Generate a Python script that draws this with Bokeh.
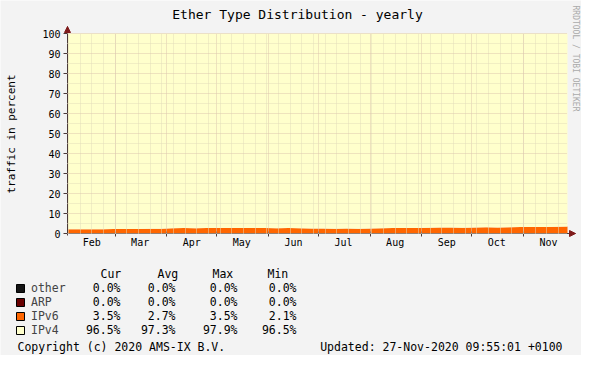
import numpy as np
import pandas as pd
from bokeh.plotting import figure
from bokeh.models import (ColumnDataSource, Range1d, FixedTicker, Label, Legend,
                          LegendItem, Arrow, NormalHead)
from bokeh.embed import file_html
from bokeh.resources import INLINE

# ---------------- data ----------------
start = "2020-02-01 09:55:01"
end = "2020-11-27 09:55:01"
month_labels = ["Feb", "Mar", "Apr", "May", "Jun", "Jul", "Aug", "Sep", "Oct", "Nov"]
month_starts = ["2020-02-01", "2020-03-01", "2020-04-01", "2020-05-01", "2020-06-01",
                "2020-07-01", "2020-08-01", "2020-09-01", "2020-10-01", "2020-11-01"]

ipv6 = [2.1, 2.1, 2.1, 2.1, 2.2,
        2.2, 2.3, 2.4, 2.4,
        2.6, 2.7, 2.6, 2.8,
        2.8, 2.7, 2.8, 2.7, 2.7,
        2.6, 2.7, 2.6, 2.5,
        2.5, 2.4, 2.5, 2.4,
        2.5, 2.6, 2.7, 2.7, 2.8,
        2.9, 3.0, 3.0, 2.9,
        3.0, 3.1, 3.0, 3.1,
        3.2, 3.2, 3.3, 3.4, 3.5]
ipv4 = [97.9, 97.9, 97.9, 97.9, 97.8,
        97.8, 97.7, 97.6, 97.6,
        97.4, 97.3, 97.4, 97.2,
        97.2, 97.3, 97.2, 97.3, 97.3,
        97.4, 97.3, 97.4, 97.5,
        97.5, 97.6, 97.5, 97.6,
        97.5, 97.4, 97.3, 97.3, 97.2,
        97.1, 97.0, 97.0, 97.1,
        97.0, 96.9, 97.0, 96.9,
        96.8, 96.8, 96.7, 96.6, 96.5]
arp = [0.0] * len(ipv6)
other = [0.0] * len(ipv6)

series_names = ["other", "ARP", "IPv6", "IPv4"]
series_colors = ["#141414", "#680000", "#FF6600", "#FFFFCC"]
stat_cur = [0.0, 0.0, 3.5, 96.5]
stat_avg = [0.0, 0.0, 2.7, 97.3]
stat_max = [0.0, 0.0, 3.5, 97.9]
stat_min = [0.0, 0.0, 2.1, 96.5]
stat_headers = ["Cur", "Avg", "Max", "Min"]

y_ticks = [0, 10, 20, 30, 40, 50, 60, 70, 80, 90, 100]
y_minor = [5, 15, 25, 35, 45, 55, 65, 75, 85, 95]

title_text = "Ether Type Distribution - yearly"
ylabel_text = "traffic in percent"
copyright_text = "Copyright (c) 2020 AMS-IX B.V."
updated_text = "Updated: 27-Nov-2020 09:55:01 +0100"
credit_text = "RRDTOOL / TOBI OETIKER"

# ---------------- helpers ----------------
t0 = pd.Timestamp(start)


def sec(ts):
    return int((pd.Timestamp(ts) - t0).total_seconds())


T = sec(end)
xs = np.linspace(0, T, len(ipv6))
month_x = [sec(m) for m in month_starts if sec(m) >= 0]
mid_x = [sec(pd.Timestamp(m) + pd.Timedelta(days=15)) for m in month_starts]
sunday_x = [sec(d) for d in pd.date_range("2020-02-02", end, freq="7D")]

FONT = "DejaVu Sans Mono"
AX = "#4A3A3A"
ARROW = "#7F1A1A"
BG = "#F3F3F3"
BODY = "11.5px"

W, H = 581, 355
PX0, PX1 = 67, 567          # plot area x (figure pixels)
PY0 = 233                   # y of value 0 (figure pixels from top)
XS = T / float(PX1 - PX0)   # data per pixel (x)
YS = 0.5                    # data per pixel (y)
EXTRA = 8 * XS
YTOP = 100 + 7 * YS
BASE_ADJ = 4                # alphabetic baseline correction (px)

p = figure(width=W, height=H, output_backend="svg", toolbar_location=None,
           x_range=Range1d(-PX0 * XS, (W - PX0) * XS),
           y_range=Range1d(-(H - PY0) * YS, PY0 * YS),
           min_border=0, background_fill_color=BG,
           border_fill_color=BG, outline_line_color=None)

src = ColumnDataSource(dict(x=xs, other=other, arp=arp, ipv6=ipv6, ipv4=ipv4))
p.varea_stack(stackers=["other", "arp", "ipv6", "ipv4"], x="x",
              color=series_colors, source=src)

# grids
p.xgrid.ticker = FixedTicker(ticks=month_x, minor_ticks=sunday_x)
p.ygrid.ticker = FixedTicker(ticks=y_ticks, minor_ticks=y_minor)
for g in (p.xgrid[0], p.ygrid[0]):
    g.grid_line_color = "#DCC6AE"
    g.grid_line_alpha = 1.0
    g.grid_line_dash = "1 1"
    g.minor_grid_line_color = "#E2DDBA"
    g.minor_grid_line_alpha = 1.0
    g.minor_grid_line_dash = "1 1"
    g.level = "guide"
p.xgrid.bounds = (0, T)
p.xgrid.cross_bounds = (0, 100)
p.ygrid.bounds = (0, 100)
p.ygrid.cross_bounds = (0, T)

# y axis
yax = p.yaxis[0]
yax.fixed_location = 0
yax.bounds = (-2 * YS, YTOP)
yax.ticker = FixedTicker(ticks=y_ticks, minor_ticks=y_minor)
yax.axis_line_color = AX
yax.major_tick_line_color = AX
yax.major_tick_out = 4
yax.major_tick_in = 0
yax.minor_tick_line_color = None
yax.major_label_standoff = 3
yax.major_label_text_font = FONT
yax.major_label_text_font_size = "10px"
yax.major_label_text_color = "#000000"

# x axis
xax = p.xaxis[0]
xax.fixed_location = 0
xax.bounds = (-3 * XS, T + EXTRA)
xax.ticker = FixedTicker(ticks=mid_x, minor_ticks=month_x)
xax.major_label_overrides = {m: lab for m, lab in zip(mid_x, month_labels)}
xax.axis_line_color = AX
xax.major_tick_line_color = None
xax.major_tick_out = 0
xax.major_tick_in = 0
xax.minor_tick_line_color = AX
xax.minor_tick_out = 3
xax.minor_tick_in = 2
xax.major_label_standoff = 0
xax.major_label_text_font = FONT
xax.major_label_text_font_size = "10px"
xax.major_label_text_color = "#000000"

# axis arrows
p.add_layout(Arrow(end=NormalHead(size=6, fill_color=ARROW, line_color=ARROW),
                   x_start=0, y_start=100, x_end=0, y_end=YTOP,
                   line_alpha=0))
p.add_layout(Arrow(end=NormalHead(size=6, fill_color=ARROW, line_color=ARROW),
                   x_start=T, y_start=0, x_end=T + EXTRA, y_end=0,
                   line_alpha=0))


def text(fx, fy, s, size, align="left", baseline="alphabetic", color="#000000", angle=0.0):
    if baseline == "alphabetic":
        fy = fy - BASE_ADJ
    p.add_layout(Label(x=fx, y=H - fy, x_units="screen", y_units="screen",
                       text=s, text_font=FONT, text_font_size=size, text_color=color,
                       text_align=align, text_baseline=baseline, angle=angle))


text(297, 18, title_text, "13px", align="center")
text(11, 133.5, ylabel_text, "11px", align="center", baseline="middle", angle=np.pi / 2)
text(575, 58, credit_text, "8px", align="center", baseline="middle",
     color="#AAAAAA", angle=-np.pi / 2)

# legend (boxes + names)
nan = float("nan")
proxies = []
for name, col in zip(series_names, series_colors):
    r = p.quad(left=[nan], right=[nan], top=[nan], bottom=[nan],
               fill_color=col, line_color="#000000")
    proxies.append(LegendItem(label=name, renderers=[r]))
legend = Legend(items=proxies, location=(15, H - 337), orientation="vertical",
                glyph_width=10, glyph_height=10, label_height=10, label_width=10,
                label_standoff=6, spacing=0, padding=0, margin=0,
                border_line_color=None, background_fill_alpha=0,
                label_text_font=FONT, label_text_font_size=BODY)
p.add_layout(legend)

# stats table
header_left = [100, 157, 212, 267]
col_right = [120, 175, 237, 296]
for h, xl in zip(stat_headers, header_left):
    text(xl, 277, h, BODY)
for i in range(len(series_names)):
    fy = 291 + 14 * i
    for col, xr in zip((stat_cur, stat_avg, stat_max, stat_min), col_right):
        text(xr, fy, "%.1f%%" % col[i], BODY, align="right")

text(17, 350, copyright_text, BODY)
text(562, 350, updated_text, BODY, align="right")

open("out.html", "w").write(file_html(p, INLINE))
